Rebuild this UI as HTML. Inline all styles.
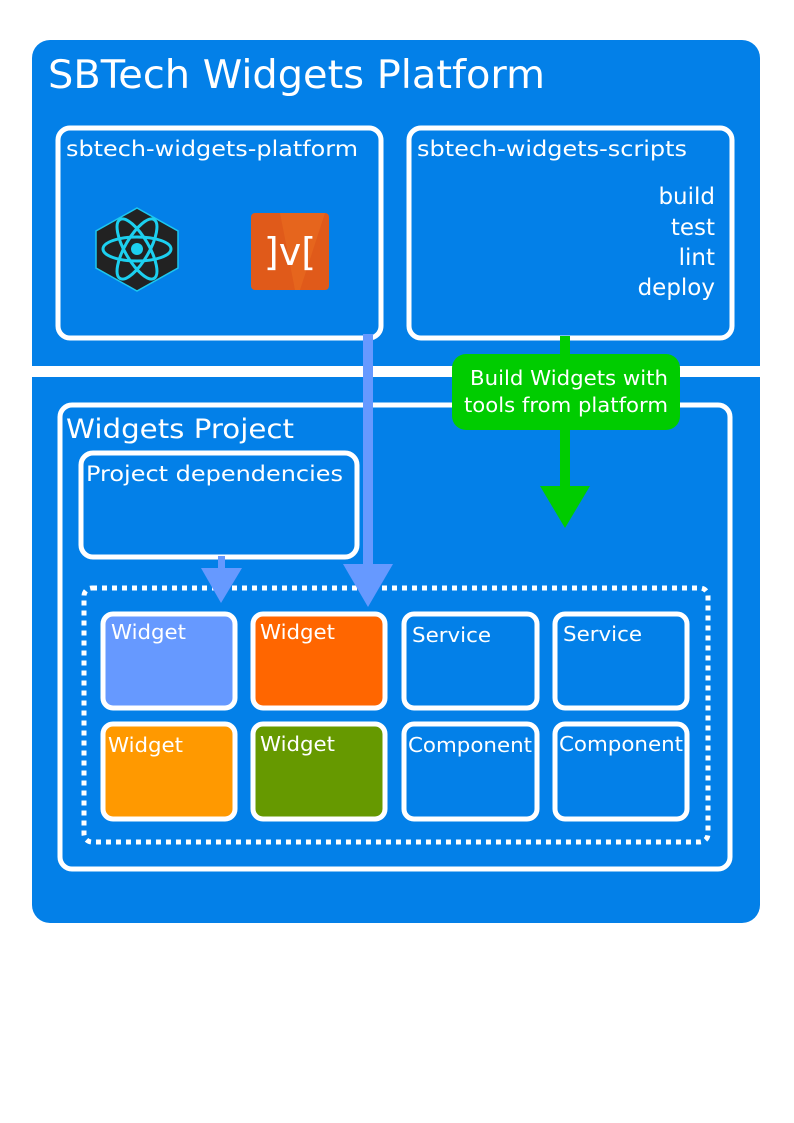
<!DOCTYPE html>
<html><head><meta charset="utf-8"><style>html,body{margin:0;padding:0;background:#fff}svg{display:block}text{font-family:"DejaVu Sans","Liberation Sans",sans-serif;fill:#fff}</style></head>
<body>
<svg width="794" height="1123" viewBox="0 0 794 1123" xmlns="http://www.w3.org/2000/svg">
<rect x="32" y="40" width="728" height="883" rx="18" fill="#0380e8"/>
<rect x="32" y="366" width="728" height="11" fill="#fff"/>
<text x="48" y="88" font-size="39" textLength="497" lengthAdjust="spacingAndGlyphs">SBTech Widgets Platform</text>
<g fill="none" stroke="#fff" stroke-width="5">
<rect x="58" y="128" width="323" height="210" rx="12"/>
<rect x="409" y="128" width="323" height="210" rx="12"/>
<rect x="60" y="405" width="670" height="464" rx="12"/>
<rect x="81" y="453" width="276" height="104" rx="12"/>
<rect x="84" y="588" width="624" height="254" rx="8" stroke-dasharray="5 5"/>
</g>
<text x="66" y="156" font-size="21.5" textLength="292" lengthAdjust="spacingAndGlyphs">sbtech-widgets-platform</text>
<text x="417" y="156" font-size="21.5" textLength="270" lengthAdjust="spacingAndGlyphs">sbtech-widgets-scripts</text>
<g font-size="23" text-anchor="end">
<text x="715" y="204">build</text><text x="715" y="235">test</text><text x="715" y="265">lint</text><text x="715" y="295">deploy</text>
</g>
<text x="66" y="438" font-size="27" textLength="228" lengthAdjust="spacingAndGlyphs">Widgets Project</text>
<text x="86" y="481" font-size="21" textLength="257" lengthAdjust="spacingAndGlyphs">Project dependencies</text>
<polygon points="137,208 178,231 178,268 137,291 96,268 96,231" fill="#222" stroke="#1cc7ef" stroke-width="1.5"/>
<g fill="none" stroke="#1cd0ef" stroke-width="3">
<ellipse cx="137" cy="249" rx="34" ry="12"/>
<ellipse cx="137" cy="249" rx="34" ry="12" transform="rotate(60 137 249)"/>
<ellipse cx="137" cy="249" rx="34" ry="12" transform="rotate(-60 137 249)"/>
</g>
<circle cx="137" cy="249" r="6" fill="#1cd0ef"/>
<rect x="251" y="213" width="78" height="77" rx="4" fill="#e05a1a"/>
<polygon points="280,213 325,213 300,290 295,290" fill="#e86a20" opacity="0.7"/>
<text x="290" y="265" font-size="38" text-anchor="middle">]v[</text>
<g stroke="#fff" stroke-width="5">
<rect x="103" y="614" width="132" height="94" rx="10" fill="#6699ff"/>
<rect x="253" y="614" width="132" height="94" rx="10" fill="#ff6600"/>
<rect x="404" y="614" width="133" height="94" rx="10" fill="#0380e8"/>
<rect x="555" y="614" width="132" height="94" rx="10" fill="#0380e8"/>
<rect x="103" y="724" width="132" height="95" rx="10" fill="#ff9900"/>
<rect x="253" y="724" width="132" height="95" rx="10" fill="#669900"/>
<rect x="404" y="724" width="133" height="95" rx="10" fill="#0380e8"/>
<rect x="555" y="724" width="132" height="95" rx="10" fill="#0380e8"/>
</g>
<g font-size="20">
<text x="111" y="639" textLength="75" lengthAdjust="spacingAndGlyphs">Widget</text><text x="260" y="639" textLength="75" lengthAdjust="spacingAndGlyphs">Widget</text>
<text x="412" y="642" textLength="79" lengthAdjust="spacingAndGlyphs">Service</text><text x="563" y="641" textLength="79" lengthAdjust="spacingAndGlyphs">Service</text>
<text x="108" y="752" textLength="75" lengthAdjust="spacingAndGlyphs">Widget</text><text x="260" y="751" textLength="75" lengthAdjust="spacingAndGlyphs">Widget</text>
<text x="408" y="752" textLength="124" lengthAdjust="spacingAndGlyphs">Component</text>
<text x="559" y="751" textLength="124" lengthAdjust="spacingAndGlyphs">Component</text>
</g>
<rect x="363" y="334" width="10" height="232" fill="#6699ff"/>
<polygon points="343,564 393,564 368,607" fill="#6699ff"/>
<rect x="218" y="556" width="7" height="13" fill="#6699ff"/>
<polygon points="201,568 242,568 221,603" fill="#6699ff"/>
<rect x="560" y="336" width="10" height="152" fill="#00cc00"/>
<polygon points="540,486 590,486 565,528" fill="#00cc00"/>
<rect x="452" y="354" width="228" height="76" rx="14" fill="#00cc00"/>
<g font-size="20" text-anchor="end">
<text x="668" y="385" textLength="198" lengthAdjust="spacingAndGlyphs">Build Widgets with</text>
<text x="668" y="412" textLength="204" lengthAdjust="spacingAndGlyphs">tools from platform</text>
</g>
</svg>
</body></html>
